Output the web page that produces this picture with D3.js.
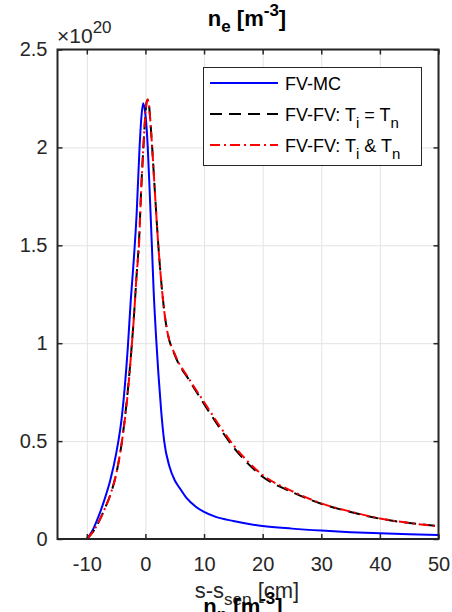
<!DOCTYPE html>
<html>
<head>
<meta charset="utf-8">
<script src="https://cdn.jsdelivr.net/npm/d3@7"></script>
<style>
  body { margin: 0; background: #fff; }
  svg { display: block; font-family: "Liberation Sans", Arial, Helvetica, sans-serif; }
</style>
</head>
<body>
<div id="chart"></div>
<script>
// data, density in units of 1e20 m^-3 vs s-s_sep in cm
const mcX = [-10, -9, -8, -7, -6, -5, -4, -3, -2.5, -2, -1.5, -1, -0.7, -0.4, -0.1, 0.2, 0.4, 0.8, 1.1, 1.4, 1.8, 2.2, 2.7, 3.2, 4.1, 5, 5.8, 7, 8.6, 10, 12, 15, 20, 25, 30, 35, 40, 45, 50];
const mcY = [0, 0.045, 0.115, 0.2, 0.3, 0.435, 0.63, 0.98, 1.22, 1.42, 1.66, 2.0, 2.15, 2.225, 2.19, 2.1, 2.0, 1.72, 1.5, 1.27, 1.04, 0.85, 0.65, 0.5, 0.37, 0.3, 0.262, 0.21, 0.165, 0.138, 0.113, 0.092, 0.066, 0.053, 0.043, 0.035, 0.029, 0.024, 0.02];

const eqX = [-10, -9, -8, -7, -6, -5, -4, -3, -2.3, -2, -1.5, -1.1, -0.7, -0.35, 0, 0.2, 0.4, 0.6, 0.8, 1.15, 1.6, 2.2, 2.9, 3.4, 3.8, 5, 7.5, 10, 12.5, 15, 17.5, 20, 25, 30, 35, 40, 45, 50];
const eqY = [0, 0.035, 0.085, 0.15, 0.225, 0.33, 0.5, 0.76, 1.0, 1.12, 1.35, 1.52, 1.8, 2.0, 2.17, 2.23, 2.245, 2.22, 2.15, 2.0, 1.78, 1.5, 1.25, 1.12, 1.05, 0.94, 0.81, 0.69, 0.575, 0.47, 0.385, 0.318, 0.24, 0.18, 0.138, 0.104, 0.082, 0.066];

const sepX = [-10, -9, -8, -7, -6, -5, -4, -3, -2.3, -2, -1.5, -1.1, -0.7, -0.35, 0, 0.2, 0.4, 0.6, 0.8, 1.15, 1.6, 2.2, 2.9, 3.4, 3.8, 5, 7.5, 10, 12.5, 15, 17.5, 20, 25, 30, 35, 40, 45, 50];
const sepY = [0, 0.035, 0.085, 0.15, 0.225, 0.33, 0.5, 0.75, 1.0, 1.117, 1.35, 1.5, 1.8, 2.0, 2.17, 2.23, 2.243, 2.22, 2.15, 2.0, 1.78, 1.5, 1.25, 1.12, 1.05, 0.945, 0.815, 0.7, 0.585, 0.48, 0.395, 0.327, 0.245, 0.182, 0.14, 0.105, 0.082, 0.064];

const xTicks = [-10, 0, 10, 20, 30, 40, 50];
const yTicks = [0, 0.5, 1, 1.5, 2, 2.5];
const yTickLabels = ["0", "0.5", "1", "1.5", "2", "2.5"];

const W = 452, H = 612;
const plot = { left: 57.5, right: 438.5, top: 49.5, bottom: 539 };
const axisColor = "#262626";
const fontSize = 20;

const svg = d3.select("#chart").append("svg")
  .attr("width", W)
  .attr("height", H);

svg.append("rect").attr("width", W).attr("height", H).attr("fill", "#fff");

const x = d3.scaleLinear().domain([-15, 50]).range([plot.left, plot.right]);
const y = d3.scaleLinear().domain([0, 2.5]).range([plot.bottom, plot.top]);
const pw = plot.right - plot.left;
const ph = plot.bottom - plot.top;

// grid
svg.append("g")
  .attr("transform", `translate(0,${plot.bottom})`)
  .call(d3.axisBottom(x).tickValues(xTicks).tickSize(-ph).tickFormat(""))
  .call(g => g.select(".domain").remove())
  .selectAll("line").attr("stroke", "#e3e3e3").attr("stroke-width", 1);

svg.append("g")
  .attr("transform", `translate(${plot.left},0)`)
  .call(d3.axisLeft(y).tickValues(yTicks).tickSize(-pw).tickFormat(""))
  .call(g => g.select(".domain").remove())
  .selectAll("line").attr("stroke", "#e3e3e3").attr("stroke-width", 1);

// curves
const line = (xs, ys) => d3.line()
  .x((d, i) => x(xs[i]))
  .y(d => y(d))
  .curve(d3.curveMonotoneX)(ys);

svg.append("path")
  .attr("d", line(mcX, mcY))
  .attr("fill", "none").attr("stroke", "#0000ff").attr("stroke-width", 2);

svg.append("path")
  .attr("d", line(eqX, eqY))
  .attr("fill", "none").attr("stroke", "#000").attr("stroke-width", 2)
  .attr("stroke-dasharray", "12,7");

svg.append("path")
  .attr("d", line(sepX, sepY))
  .attr("fill", "none").attr("stroke", "#ff0000").attr("stroke-width", 2)
  .attr("stroke-dasharray", "10,4,2,4");

// axes (ticks pointing inward on all four sides)
function styleAxis(g) {
  g.select(".domain").remove();
  g.selectAll("line").attr("stroke", axisColor).attr("stroke-width", 1.5);
  g.selectAll("text").attr("fill", axisColor).style("font-size", fontSize + "px")
    .style("font-family", "'Liberation Sans', Arial, sans-serif");
}

svg.append("g")
  .attr("transform", `translate(0,${plot.bottom})`)
  .call(d3.axisBottom(x).tickValues(xTicks).tickSizeInner(-5).tickSizeOuter(0).tickPadding(18)
    .tickFormat(d => String(d)))
  .call(styleAxis);

svg.append("g")
  .attr("transform", `translate(0,${plot.top})`)
  .call(d3.axisTop(x).tickValues(xTicks).tickSizeInner(-5).tickSizeOuter(0).tickFormat(""))
  .call(styleAxis);

svg.append("g")
  .attr("transform", `translate(${plot.left},0)`)
  .call(d3.axisLeft(y).tickValues(yTicks).tickSizeInner(-5).tickSizeOuter(0).tickPadding(10)
    .tickFormat((d, i) => yTickLabels[i]))
  .call(styleAxis);

svg.append("g")
  .attr("transform", `translate(${plot.right},0)`)
  .call(d3.axisRight(y).tickValues(yTicks).tickSizeInner(-5).tickSizeOuter(0).tickFormat(""))
  .call(styleAxis);

svg.append("rect")
  .attr("x", plot.left).attr("y", plot.top)
  .attr("width", pw).attr("height", ph)
  .attr("fill", "none").attr("stroke", axisColor).attr("stroke-width", 2);

// exponent
function exponentLabel(x0, y0) {
  const t = svg.append("text").attr("x", x0).attr("y", y0)
    .attr("fill", axisColor).style("font-size", "21px");
  t.append("tspan").text("\u00d710");
  t.append("tspan").attr("dy", -10).style("font-size", "17px").text("20");
}
exponentLabel(57, 43);

// title with sub/superscripts
function densityTitle(x0, y0, sub) {
  const t = svg.append("text").attr("x", x0).attr("y", y0)
    .attr("text-anchor", "middle").attr("fill", "#000")
    .style("font-size", "22px").style("font-weight", "bold");
  t.append("tspan").text("n");
  t.append("tspan").attr("dy", 6).style("font-size", "17px").text(sub);
  t.append("tspan").attr("dy", -6).text(" [m");
  t.append("tspan").attr("dy", -10).style("font-size", "17px").text("-3");
  t.append("tspan").attr("dy", 10).text("]");
}
densityTitle(247, 26, "e");

// legend
const legend = svg.append("g");
legend.append("rect")
  .attr("x", 203.5).attr("y", 67.5).attr("width", 218).attr("height", 98)
  .attr("fill", "#fff").attr("stroke", axisColor).attr("stroke-width", 1);

const legendRows = [
  { y: 83, color: "#0000ff", dash: null, parts: [["FV-MC", 0]] },
  { y: 114, color: "#000", dash: "12,7", parts: [["FV-FV: T", 0], ["i", 1], [" = T", 0], ["n", 1]] },
  { y: 145, color: "#ff0000", dash: "10,4,2,4", parts: [["FV-FV: T", 0], ["i", 1], [" & T", 0], ["n", 1]] }
];

legendRows.forEach(r => {
  legend.append("line")
    .attr("x1", 210).attr("x2", 278).attr("y1", r.y).attr("y2", r.y)
    .attr("stroke", r.color).attr("stroke-width", 2)
    .attr("stroke-dasharray", r.dash);
  const t = legend.append("text").attr("x", 285).attr("y", r.y + 7)
    .attr("fill", "#000").style("font-size", "18px");
  let sub = 0;
  r.parts.forEach(([s, isSub]) => {
    const dy = isSub === sub ? 0 : (isSub ? 7 : -7);
    sub = isSub;
    t.append("tspan").attr("dy", dy).style("font-size", isSub ? "15px" : "18px").text(s);
  });
});

// x label
const xl = svg.append("text").attr("x", 247).attr("y", 598)
  .attr("text-anchor", "middle").attr("fill", axisColor).style("font-size", "22px");
xl.append("tspan").text("s-s");
xl.append("tspan").attr("dy", 7).style("font-size", "17px").text("sep");
xl.append("tspan").attr("dy", -7).text(" [cm]");

// next subplot's title and exponent, cut off by the page edge
densityTitle(243, 614, "n");
exponentLabel(58, 635);
</script>
</body>
</html>
